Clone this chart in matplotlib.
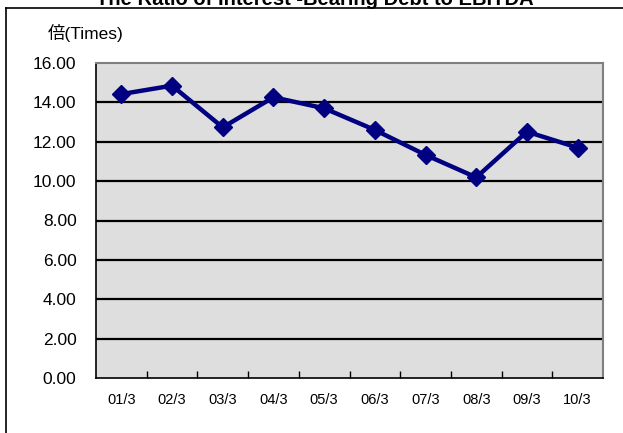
import matplotlib
matplotlib.use("Agg")
import matplotlib.pyplot as plt
from matplotlib.lines import Line2D

categories = ["01/3", "02/3", "03/3", "04/3", "05/3", "06/3", "07/3", "08/3", "09/3", "10/3"]
ratio = [14.42, 14.85, 12.73, 14.26, 13.70, 12.60, 11.33, 10.19, 12.51, 11.70]
yticks = [0, 2, 4, 6, 8, 10, 12, 14, 16]
title = "The Ratio of Interest -Bearing Debt to EBITDA"
unit_label = "倍(Times)"

plt.rcParams['font.family'] = ['Liberation Sans', 'Noto Sans CJK JP', 'DejaVu Sans']

fig = plt.figure(figsize=(6.23, 4.33), dpi=100)
ax = fig.add_axes([96/623, 1-378/433, (603-96)/623, (378-63)/433])

ax.set_facecolor('#dedede')
x = list(range(len(categories)))
ax.plot(x, ratio, color='#000080', lw=3.2, marker='D', markersize=9.5,
        markerfacecolor='#000080', markeredgecolor='#000080', zorder=5, clip_on=False)

ax.set_xlim(-0.5, len(categories) - 0.5)
ax.set_ylim(0, 16)
ax.set_yticks(yticks)
ax.set_yticklabels([f"{v:.2f}" for v in yticks], fontsize=12.5)
ax.set_xticks(x)
ax.set_xticklabels(categories, fontsize=10.5)
ax.tick_params(axis='x', which='major', length=0, pad=11)
ax.set_xticks([i + 0.5 for i in range(len(categories) - 1)], minor=True)
ax.tick_params(axis='x', which='minor', direction='in', length=5, width=1, color='black')
ax.tick_params(axis='y', length=0, pad=14)

for v in yticks[1:-1]:
    ax.axhline(v, color='black', lw=1.6, zorder=2)

ax.spines['left'].set_color('black')
ax.spines['left'].set_linewidth(1.2)
ax.spines['bottom'].set_color('black')
ax.spines['bottom'].set_linewidth(1.2)
ax.spines['top'].set_color('#808080')
ax.spines['top'].set_linewidth(1.5)
ax.spines['right'].set_color('#808080')
ax.spines['right'].set_linewidth(1.5)

fig.text(48/623, 1-33/433, unit_label, fontsize=12.5, va='center', ha='left')
fig.text(315/623, 1-5/433, title, fontsize=14.5, fontweight='bold', ha='center', va='baseline')

fig.add_artist(Line2D([6/623, 6/623], [0, 1-8/433], color='black', lw=1.2, transform=fig.transFigure))
fig.add_artist(Line2D([6/623, 1], [1-8/433, 1-8/433], color='black', lw=1.2, transform=fig.transFigure))

fig.savefig("out.png", dpi=100)
